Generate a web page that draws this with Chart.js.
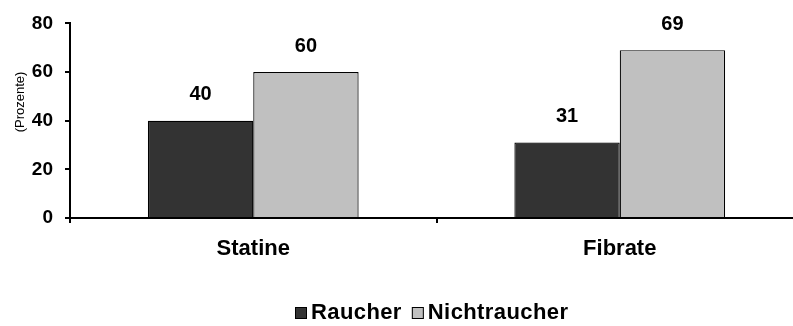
<!DOCTYPE html>
<html>
<head>
<meta charset="utf-8">
<script src="https://cdn.jsdelivr.net/npm/chart.js@4.4.1/dist/chart.umd.min.js"></script>
<style>
  html, body { margin: 0; padding: 0; background: #fff; overflow: hidden; }
  #wrap { width: 793px; height: 326px; overflow: hidden; }
  #c { display: block; }
</style>
</head>
<body>
<div id="wrap"><canvas id="c" width="803" height="326"></canvas></div>
<script>
// Therapy groups and share of smokers / non-smokers (percent)
const categories = ['Statine', 'Fibrate'];
const raucher = [40, 31];
const nichtraucher = [60, 69];
const yTicks = [0, 20, 40, 60, 80];
const seriesNames = ['Raucher', 'Nichtraucher'];
const seriesColors = ['#333333', '#c0c0c0'];

const FONT = '"Liberation Sans", Arial, sans-serif';

// Value labels centred above each bar
const valueLabels = {
  id: 'valueLabels',
  afterDatasetsDraw(chart) {
    const ctx = chart.ctx;
    ctx.save();
    ctx.font = 'bold 20px ' + FONT;
    ctx.fillStyle = '#000';
    ctx.textAlign = 'center';
    ctx.textBaseline = 'middle';
    chart.data.datasets.forEach((ds, i) => {
      chart.getDatasetMeta(i).data.forEach((bar, j) => {
        ctx.fillText(String(ds.data[j]), bar.x, bar.y - 26);
      });
    });
    ctx.restore();
  }
};

// Rotated y-axis caption and the legend row underneath
const decorations = {
  id: 'decorations',
  afterDraw(chart) {
    const ctx = chart.ctx;
    ctx.save();
    ctx.font = '13px ' + FONT;
    ctx.fillStyle = '#000';
    ctx.textAlign = 'center';
    ctx.textBaseline = 'middle';
    ctx.translate(20, 102);
    ctx.rotate(-Math.PI / 2);
    ctx.fillText('(Prozente)', 0, 0);
    ctx.restore();

    ctx.save();
    ctx.font = 'bold 22px ' + FONT;
    if ('letterSpacing' in ctx) ctx.letterSpacing = '0.4px';
    ctx.textAlign = 'left';
    ctx.textBaseline = 'middle';
    const y = 313;
    let x = 295;
    chart.data.datasets.forEach((ds) => {
      ctx.fillStyle = ds.backgroundColor;
      ctx.fillRect(x, y - 6, 12, 12);
      ctx.strokeStyle = '#000';
      ctx.lineWidth = 1;
      ctx.strokeRect(x + 0.5, y - 5.5, 11, 11);
      ctx.fillStyle = '#000';
      ctx.fillText(ds.label, x + 16, y);
      x += 16 + ctx.measureText(ds.label).width + 10;
    });
    ctx.restore();
  }
};

new Chart(document.getElementById('c'), {
  type: 'bar',
  data: {
    labels: categories,
    datasets: seriesNames.map((name, i) => ({
      label: name,
      data: i === 0 ? raucher : nichtraucher,
      backgroundColor: seriesColors[i],
      borderColor: '#000000',
      borderWidth: 1.2,
      barPercentage: 1,
      categoryPercentage: 0.575
    }))
  },
  options: {
    responsive: false,
    animation: false,
    devicePixelRatio: 1,
    layout: { padding: { top: 19, right: 0, left: 0, bottom: 0 } },
    plugins: {
      tooltip: { enabled: false },
      title: { display: false },
      legend: { display: false }
    },
    scales: {
      x: {
        grid: {
          offset: true,
          drawOnChartArea: false,
          drawTicks: true,
          tickLength: 5,
          color: '#000',
          lineWidth: 2
        },
        border: { color: '#000', width: 2 },
        ticks: {
          color: '#000',
          font: { family: FONT, size: 22, weight: 'bold' },
          padding: 13
        },
        afterFit(scale) { scale.height = 108; }
      },
      y: {
        min: 0,
        max: 80,
        grid: {
          drawOnChartArea: false,
          drawTicks: true,
          tickLength: 5,
          color: '#000',
          lineWidth: 2
        },
        border: { color: '#000', width: 2 },
        afterBuildTicks(scale) { scale.ticks = yTicks.map(v => ({ value: v })); },
        ticks: {
          color: '#000',
          font: { family: FONT, size: 19, weight: 'bold' },
          padding: 12
        },
        afterFit(scale) { scale.width = 70; }
      }
    }
  },
  plugins: [valueLabels, decorations]
});
</script>
</body>
</html>
